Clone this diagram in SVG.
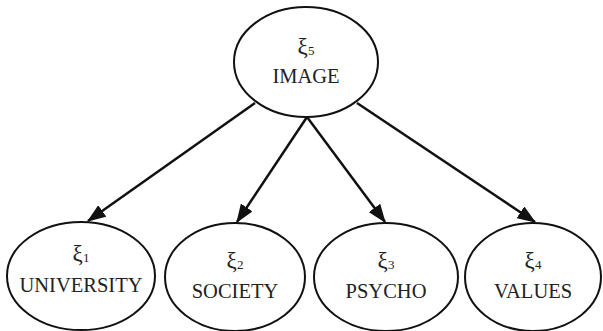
<svg xmlns="http://www.w3.org/2000/svg" width="603" height="331" viewBox="0 0 603 331">
<defs>
<marker id="ah" markerWidth="7.5" markerHeight="5.6" refX="7" refY="2.8" orient="auto" markerUnits="strokeWidth">
<path d="M0,0 L7.5,2.8 L0,5.6 Z" fill="#111"/>
</marker>
</defs>
<style>
.n ellipse{fill:#fff;stroke:#111;stroke-width:2}
text{font-family:'Liberation Serif','Times New Roman','DejaVu Serif',serif;fill:#222;text-anchor:middle}
.lbl{font-size:20.5px}
.xi{font-size:23px}
.sub{font-size:13px}
.e line{stroke:#111;stroke-width:2.5;marker-end:url(#ah)}
</style>
<rect width="603" height="331" fill="#fff"/>
<g class="e" id="connectors">
<line x1="255" y1="103" x2="88" y2="221"/>
<line x1="307" y1="117" x2="237" y2="222"/>
<line x1="307" y1="117" x2="385" y2="222"/>
<line x1="357" y1="103" x2="535" y2="222"/>
</g>
<g class="n" id="image">
<ellipse cx="306" cy="62" rx="72" ry="55"/>
<text class="xi" x="306" y="54">ξ<tspan class="sub" dy="1">5</tspan></text>
<text class="lbl" x="306" y="83">IMAGE</text>
</g>
<g class="n" id="university">
<ellipse cx="81" cy="276" rx="74" ry="54"/>
<text class="xi" x="81" y="261">ξ<tspan class="sub" dy="1">1</tspan></text>
<text class="lbl" x="81" y="292">UNIVERSITY</text>
</g>
<g class="n" id="society">
<ellipse cx="235" cy="277" rx="70" ry="54"/>
<text class="xi" x="235" y="268">ξ<tspan class="sub" dy="1">2</tspan></text>
<text class="lbl" x="235" y="298">SOCIETY</text>
</g>
<g class="n" id="psycho">
<ellipse cx="386" cy="277" rx="72" ry="54"/>
<text class="xi" x="386" y="268">ξ<tspan class="sub" dy="1">3</tspan></text>
<text class="lbl" x="386" y="298">PSYCHO</text>
</g>
<g class="n" id="values">
<ellipse cx="533" cy="277" rx="68" ry="54"/>
<text class="xi" x="533" y="268">ξ<tspan class="sub" dy="1">4</tspan></text>
<text class="lbl" x="533" y="298">VALUES</text>
</g>
</svg>
